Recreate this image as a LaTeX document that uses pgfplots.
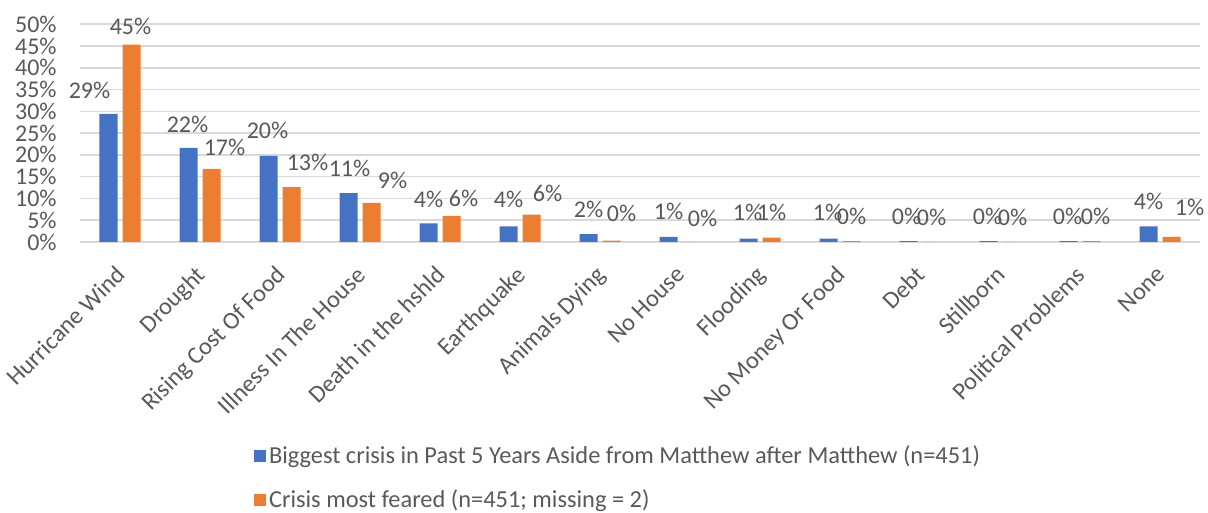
\documentclass[border=0pt]{standalone}
\usepackage{pgfplots}
\usepackage{pgfplotstable}
\pgfplotsset{compat=1.18}
\usepackage{fontspec}
\setmainfont{Carlito}
\definecolor{cblue}{HTML}{4472C4}
\definecolor{corange}{HTML}{ED7D31}
\definecolor{txt}{HTML}{595959}
\definecolor{grd}{HTML}{D9D9D9}
\pgfplotstableread{
x b o bl ol bdx bdy odx ody
0  29.4 45.3 29 45 -9.5 12   -0.5 9
1  21.6 16.8 22 17 -0.5 11.5  6.5 10.5
2  19.8 12.6 20 13 -0.5 12.5  8   12.5
3  11.2 9.0  11 9   0.5 12.5 10.5 11
4  4.3  6.0  4  6   0   12    6   8.5
5  3.6  6.3  4  6   0   13.5  8   10.5
6  1.8  0.3  2  0   0   12.5  5   13.5
7  1.2  0.0  1  0   0   12.5  5.5 12
8  0.8  1.0  1  1  -0.5 13    0   12.5
9  0.8  0.2  1  0  -0.5 13    0   12.5
10 0.2  0.0  0  0  -1   12.5  0   12.5
11 0.2  0.0  0  0  -0.5 12.5  0.5 12.5
12 0.2  0.2  0  0  -0.5 12.5  2   12.5
13 3.6  1.2  4  1   0   12.5  9   14.5
}\data
\begin{document}
\begin{tikzpicture}
\begin{axis}[
  name=ax,
  scale only axis,
  width=560pt, height=108.9pt,
  xmin=-0.5, xmax=13.5,
  ymin=0, ymax=50,
  axis line style={draw=none},
  ybar=2.5pt, bar width=9pt,
  ytick={0,5,...,50},
  ymajorgrids,
  grid style={grd, line width=0.75pt},
  major tick length=0pt,
  tick style={draw=none},
  xtick={0,...,13},
  xticklabels={Hurricane Wind, Drought, Rising Cost Of Food, Illness In The House, Death in the hshld, Earthquake, Animals Dying, No House, Flooding, No Money Or Food, Debt, Stillborn, Political Problems, None},
  /pgf/number format/assume math mode=true,
  yticklabel={\pgfmathprintnumber{\tick}\%},
  yticklabel style={font=\fontsize{12}{14}\selectfont, text=txt, anchor=east, inner sep=0pt, xshift=-11.5pt},
  xticklabel style={font=\fontsize{12.2}{14}\selectfont, text=txt, rotate=45, anchor=north east, inner sep=0pt, xshift=-9.7pt, yshift=-6pt},
  nodes near coords={\pgfmathprintnumber{\pgfplotspointmeta}\%},
  nodes near coords style={font=\fontsize{12}{14}\selectfont, text=txt, anchor=center, inner sep=0pt, xshift=\mydx pt, yshift=\mydy pt},
  legend style={at={(axis description cs:0.155,-0.92)}, anchor=north west, draw=none, fill=none,
    font=\fontsize{12.2}{14}\selectfont, text=txt, row sep=8.5pt, inner sep=0pt,
    nodes={inner sep=1.5pt}},
  legend cell align=left,
]
\addplot[fill=cblue, draw=none, point meta=\thisrow{bl},
  visualization depends on={\thisrow{bdx}\as\mydx},
  visualization depends on={\thisrow{bdy}\as\mydy},
  legend image code/.code={\fill[cblue] (0pt,-3pt) rectangle (6pt,3pt);}]
  table[x=x, y=b] {\data};
\addlegendentry{Biggest crisis in Past 5 Years Aside from Matthew after Matthew (n=451)}
\addplot[fill=corange, draw=none, point meta=\thisrow{ol},
  visualization depends on={\thisrow{odx}\as\mydx},
  visualization depends on={\thisrow{ody}\as\mydy},
  legend image code/.code={\fill[corange] (0pt,-3pt) rectangle (6pt,3pt);}]
  table[x=x, y=o] {\data};
\addlegendentry{Crisis most feared (n=451; missing = 2)}
\end{axis}
\pgfresetboundingbox
\path[use as bounding box] ([shift={(-40pt,-135.5pt)}]ax.south west) rectangle ([shift={(564pt,121pt)}]ax.south west);
\end{tikzpicture}
\end{document}
